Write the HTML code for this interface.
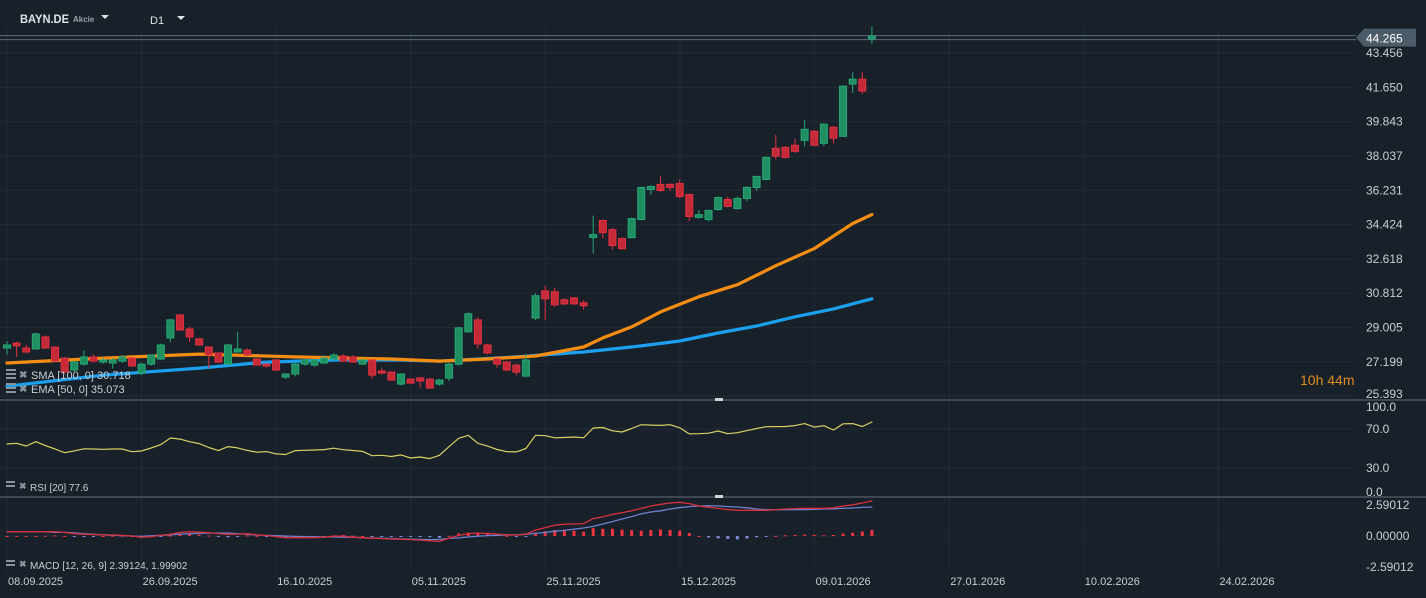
<!DOCTYPE html>
<html><head><meta charset="utf-8">
<style>
html,body{margin:0;padding:0;background:#18202a;}
svg{display:block;font-family:"Liberation Sans",sans-serif;}
</style></head>
<body>
<svg id="chart" width="1426" height="598" xmlns="http://www.w3.org/2000/svg">
<rect x="0" y="0" width="1426" height="598" fill="#18202a"/>
<g id="grid"></g>
<g id="price"></g>
<g id="rsi"></g>
<g id="macd"></g>
<g id="axes"></g>
<g>
  <text x="20" y="23" fill="#dfe3e7" font-size="12" font-weight="bold" textLength="49" lengthAdjust="spacingAndGlyphs">BAYN.DE</text>
  <text x="73" y="22" fill="#9aa3ab" font-size="8" font-weight="bold">Akcie</text>
  <path d="M101 15 L109 15 L105 19 Z" fill="#dfe3e7"/>
  <text x="150" y="24" fill="#dfe3e7" font-size="11">D1</text>
  <path d="M177 16 L185 16 L181 20 Z" fill="#dfe3e7"/>
</g>
<text x="1300" y="385" fill="#e08a1e" font-size="14">10h 44m</text>
<g>
  <g>
    <rect x="6" y="369" width="10" height="2" fill="#8a949c"/><rect x="6" y="373" width="10" height="2" fill="#8a949c"/><rect x="6" y="377" width="10" height="2" fill="#8a949c"/>
    <text x="19" y="378" fill="#8a949c" font-size="10" font-weight="bold">✖</text>
    <text x="31" y="379" fill="#c9ced3" font-size="11">SMA [100, 0] 30.718</text>
  </g>
  <g>
    <rect x="6" y="383" width="10" height="2" fill="#8a949c"/><rect x="6" y="387" width="10" height="2" fill="#8a949c"/><rect x="6" y="391" width="10" height="2" fill="#8a949c"/>
    <text x="19" y="392" fill="#8a949c" font-size="10" font-weight="bold">✖</text>
    <text x="31" y="393" fill="#c9ced3" font-size="11">EMA [50, 0] 35.073</text>
  </g>
  <g>
    <rect x="6" y="481" width="9" height="2" fill="#8a949c"/><rect x="6" y="485" width="9" height="2" fill="#8a949c"/>
    <text x="19" y="489" fill="#8a949c" font-size="9" font-weight="bold">✖</text>
    <text x="30" y="491" fill="#c9ced3" font-size="10">RSI [20] 77.6</text>
  </g>
  <g>
    <rect x="6" y="560" width="9" height="2" fill="#8a949c"/><rect x="6" y="564" width="9" height="2" fill="#8a949c"/>
    <text x="19" y="567" fill="#8a949c" font-size="9" font-weight="bold">✖</text>
    <text x="30" y="569" fill="#c9ced3" font-size="10">MACD [12, 26, 9] 2.39124, 1.99902</text>
  </g>
</g>
</svg>
<script>
const opens=[27.93,28.19,27.93,27.88,28.51,27.98,27.40,26.77,27.08,27.46,27.19,27.14,27.24,27.40,26.61,27.08,27.35,28.46,29.67,28.93,28.41,27.98,27.67,27.08,27.72,27.82,27.35,27.08,27.30,26.40,26.56,27.08,27.03,27.14,27.35,27.51,27.46,27.08,27.30,26.72,26.66,26.03,26.29,26.35,26.29,26.03,26.35,27.08,28.78,29.41,28.09,27.35,27.19,27.03,26.45,29.51,30.94,30.89,30.47,30.57,30.31,33.74,34.64,34.16,33.69,33.74,34.69,36.27,36.54,36.54,36.59,36.01,34.80,34.69,35.22,35.75,35.27,35.80,36.38,36.80,38.44,38.49,38.60,38.86,39.34,38.70,39.55,39.07,41.82,42.08,44.20];
const highs=[28.30,28.25,28.10,28.75,28.60,28.00,27.45,27.25,27.80,27.60,27.45,27.40,27.55,27.45,27.15,27.60,28.15,29.45,29.70,29.05,28.45,28.00,27.70,28.15,28.78,27.90,27.40,27.15,27.35,26.60,27.15,27.35,27.35,27.55,27.65,27.60,27.55,27.35,27.35,26.90,26.70,26.60,26.35,26.40,26.35,26.30,27.15,29.05,29.80,29.55,28.15,27.40,27.25,27.10,27.60,30.80,31.20,31.10,30.55,30.60,30.45,34.90,34.70,34.25,33.75,34.80,36.40,36.50,37.00,36.60,36.80,36.05,35.20,35.20,35.90,35.90,35.90,36.45,37.00,38.00,39.15,38.55,38.95,39.95,39.40,39.75,39.60,41.75,42.45,42.45,44.85];
const lows=[27.60,27.46,27.65,27.85,27.90,27.20,26.60,26.70,27.00,27.15,27.10,26.85,27.15,26.95,26.50,27.00,27.30,28.25,28.85,28.25,28.05,26.87,27.15,27.00,27.70,27.50,27.00,26.90,26.72,26.30,26.45,27.00,26.95,27.10,27.30,27.20,27.15,27.05,26.30,26.55,26.20,25.95,26.05,25.85,25.80,25.95,26.20,27.00,28.75,27.90,27.60,26.90,26.70,26.50,26.40,29.40,29.41,30.10,30.20,30.20,29.95,32.90,33.70,33.10,33.10,33.70,34.65,36.00,36.15,36.20,35.80,34.60,34.75,34.60,35.15,35.33,35.22,35.65,36.20,36.75,37.85,37.90,38.20,38.55,38.55,38.55,38.70,39.05,41.35,41.30,43.95];
const closes=[28.09,28.04,27.72,28.67,27.93,27.24,26.66,27.19,27.46,27.24,27.30,27.30,27.46,26.98,27.08,27.56,28.09,29.41,28.88,28.51,28.09,27.56,27.19,28.09,27.88,27.56,27.03,26.98,26.77,26.56,27.08,27.30,27.30,27.40,27.56,27.24,27.19,27.30,26.50,26.61,26.24,26.56,26.08,26.19,25.82,26.24,27.08,28.99,29.73,28.14,27.67,27.08,26.77,26.66,27.30,30.68,30.52,30.20,30.25,30.25,30.15,33.90,34.00,33.32,33.16,34.74,36.38,36.43,36.22,36.38,35.90,34.85,34.95,35.17,35.85,35.38,35.80,36.38,36.96,37.96,38.02,37.96,38.28,39.44,38.60,39.71,38.97,41.71,42.08,41.45,44.35];
const emaIdx=[0,10,20,30,40,45,50,55,60,62,65,68,72,76,80,84,88,90];
const emaVal=[27.14,27.40,27.61,27.46,27.35,27.24,27.35,27.51,27.98,28.46,29.04,29.83,30.63,31.26,32.26,33.16,34.48,34.95];
const smaIdx=[0,10,20,27,34,41,45,53,60,66,70,74,78,82,86,90];
const smaVal=[25.92,26.50,26.87,27.19,27.30,27.30,27.24,27.46,27.72,28.04,28.30,28.72,29.09,29.57,29.99,30.52];
const rsiVal=[54.6,55.3,52.6,57.0,53,49.5,45.7,47.5,49.7,49.5,49.2,49.5,49.5,46.7,47.4,50.5,54,60.8,59.6,57,55,51,47.8,51.9,50.6,48,46.2,46.8,44.5,43.8,47.8,48.2,48.5,48.9,50.3,48.8,47.9,47,42.6,43.0,41.8,43.4,40.3,41.3,39.6,43,51.9,60.5,63.5,55.3,52.5,49,46.7,46.5,50,63.5,63.1,61,61.3,61.8,61,71.0,71.5,68.2,66.9,70.5,74.4,74,73.7,74.4,71.2,65,65.2,65.7,67.9,65.2,66.2,68.4,70.5,72.4,72.5,72.6,73.5,75.5,72,73.4,69,75.3,75.5,72.6,77.2];
const macdVal=[.36,.36,.36,.36,.36,.36,.3,.19,.15,.12,.1,.08,.05,0,-.11,-.05,.05,.14,.3,.36,.32,.28,.2,.14,.16,.19,.1,.04,-.05,-.14,-.14,-.14,-.14,-.1,-.02,-.02,-.1,-.14,-.18,-.22,-.25,-.27,-.3,-.34,-.4,-.44,-.19,.05,.2,.25,.22,.17,.1,.08,.14,.5,.7,.9,.98,1.0,1.03,1.45,1.6,1.8,1.95,2.1,2.3,2.5,2.64,2.75,2.81,2.7,2.5,2.4,2.3,2.2,2.14,2.14,2.14,2.14,2.2,2.25,2.28,2.31,2.31,2.31,2.35,2.5,2.6,2.75,2.92];
const signalVal=[.36,.36,.36,.36,.34,.31,.3,.26,.2,.14,.1,.06,.03,0,-.03,.02,.06,.1,.16,.19,.22,.24,.25,.25,.2,.14,.08,.05,.03,0,-.03,-.05,-.07,-.08,-.08,-.1,-.12,-.14,-.17,-.19,-.21,-.24,-.26,-.28,-.3,-.28,-.2,-.16,-.08,-.02,.03,.06,.08,.1,.15,.22,.3,.4,.47,.57,.67,.8,1.0,1.2,1.42,1.62,1.85,2.0,2.1,2.25,2.36,2.45,2.5,2.53,2.5,2.45,2.42,2.35,2.25,2.19,2.19,2.19,2.19,2.2,2.22,2.25,2.27,2.3,2.33,2.38,2.42];
const priceTicks=[43.456,41.650,39.843,38.037,36.231,34.424,32.618,30.812,29.005,27.199,25.393];
const rsiTicks=[100,70,30,0];
const rsiTickLabels=["100.0","70.0","30.0","0.0"];
const macdTicks=[2.59012,0,-2.59012];
const macdTickLabels=["2.59012","0.00000","-2.59012"];
const dateLabels=["08.09.2025","26.09.2025","16.10.2025","05.11.2025","25.11.2025","15.12.2025","09.01.2026","27.01.2026","10.02.2026","24.02.2026"];
const lastPrice=44.265;

const NS="http://www.w3.org/2000/svg";
function mk(parent,tag,attrs){const e=document.createElementNS(NS,tag);for(const k in attrs)e.setAttribute(k,attrs[k]);parent.appendChild(e);return e;}
const xOf=i=>7+i*9.61;
const yP=p=>53+(43.456-p)*19.0;
const yR=v=>497.25-v*0.975;
const yM=v=>536-v*12;
const G=document.getElementById('grid'),P=document.getElementById('price'),R=document.getElementById('rsi'),M=document.getElementById('macd'),A=document.getElementById('axes');

dateLabels.forEach((d,k)=>{
  const x=7+k*134.6;
  const l=mk(G,'line',{x1:x,x2:x,y1:28,y2:572,stroke:'#222c35','stroke-width':1});
  
  
  const t=mk(A,'text',{x:x+1,y:585,fill:'#c9ced3','font-size':11});
  
  
  t.textContent=d;
});
priceTicks.forEach(p=>{
  const y=yP(p);
  const l=mk(G,'line',{x1:0,x2:1355,y1:y,y2:y,stroke:'#222c35','stroke-width':1});
  
  
  const ty=Math.min(y+4,398);
  const t=mk(A,'text',{x:1366,y:ty,fill:'#c9ced3','font-size':12});
  
  
  t.textContent=p.toFixed(3);
});
rsiTicks.forEach((v,k)=>{
  const y=yR(v);
  if(v>0&&v<100){const l=mk(G,'line',{x1:0,x2:1355,y1:y,y2:y,stroke:'#222c35'});
  
  }
  const ty=v===100?411:(v===0?496:y+4);
  const t=mk(A,'text',{x:1366,y:ty,fill:'#c9ced3','font-size':12});
  
  
  t.textContent=rsiTickLabels[k];
});
macdTicks.forEach((v,k)=>{
  const y=yM(v);
  if(v===0){const l=mk(G,'line',{x1:0,x2:1355,y1:y,y2:y,stroke:'#222c35'});
  
  }
  const t=mk(A,'text',{x:1366,y:y+4,fill:'#c9ced3','font-size':12});
  
  
  t.textContent=macdTickLabels[k];
});
[400,497].forEach(y=>{
  const l=mk(A,'line',{x1:0,x2:1426,y1:y,y2:y,stroke:'#4a555f','stroke-width':1.5});
  
  
  const h=mk(A,'rect',{x:715,y:y-2,width:8,height:3,fill:'#d0d4d8'});
  
  
});
[yP(lastPrice)-2,yP(lastPrice)+2].forEach(y=>{
  const l=mk(P,'line',{x1:0,x2:1356,y1:y,y2:y,stroke:'#5b6a75','stroke-width':1});
  
  
});
{
  const y=yP(lastPrice);
  const tag=mk(A,'path',{d:`M1356 ${y} L1364 ${y-9} L1416 ${y-9} L1416 ${y+9} L1364 ${y+9} Z`,fill:'#4b5b67'});
  
  
  const t=mk(A,'text',{x:1366,y:y+5,fill:'#ffffff','font-size':12});
  
  
  t.textContent=lastPrice.toFixed(3);
}
function lineFrom(parent,idx,vals,yf,color,w,name){
  const pts=idx.map((i,k)=>xOf(i).toFixed(1)+','+yf(vals[k]).toFixed(1)).join(' ');
  const e=mk(parent,'polyline',{points:pts,fill:'none',stroke:color,'stroke-width':w,'stroke-linejoin':'round','stroke-linecap':'round'});
  
  
}
lineFrom(P,smaIdx,smaVal,yP,'#1aa0ee',3.2,'sma-100-line');
lineFrom(P,emaIdx,emaVal,yP,'#f58d12',3.2,'ema-50-line');
opens.forEach((o,i)=>{
  const c=closes[i],up=c>=o,col=up?'#27a876':'#e03140';
  const x=xOf(i);
  const g=mk(P,'g',{});
  
  
  mk(g,'line',{x1:x,x2:x,y1:yP(highs[i]),y2:yP(lows[i]),stroke:col,'stroke-width':1});
  const top=yP(Math.max(o,c)),bot=yP(Math.min(o,c));
  mk(g,'rect',{x:x-3.5,y:top,width:7,height:Math.max(1.5,bot-top),fill:up?'#1f8f62':'#c42a37',stroke:col,'stroke-width':1});
});
lineFrom(R,rsiVal.map((v,i)=>i),rsiVal,yR,'#d9d064',1.2,'rsi-line');
macdVal.forEach((m,i)=>{
  const h=m-signalVal[i];
  const x=xOf(i);
  const y0=yM(0),y1=yM(h);
  const r=mk(M,'rect',{x:x-1.5,y:Math.min(y0,y1),width:3,height:Math.max(1,Math.abs(y1-y0)),fill:h>=0?'#ec3540':'#7d8ad6'});
  
  
});
lineFrom(M,signalVal.map((v,i)=>i),signalVal,yM,'#6f80cf',1.3,'macd-signal-line');
lineFrom(M,macdVal.map((v,i)=>i),macdVal,yM,'#d7313c',1.3,'macd-line');
</script>
</body></html>
